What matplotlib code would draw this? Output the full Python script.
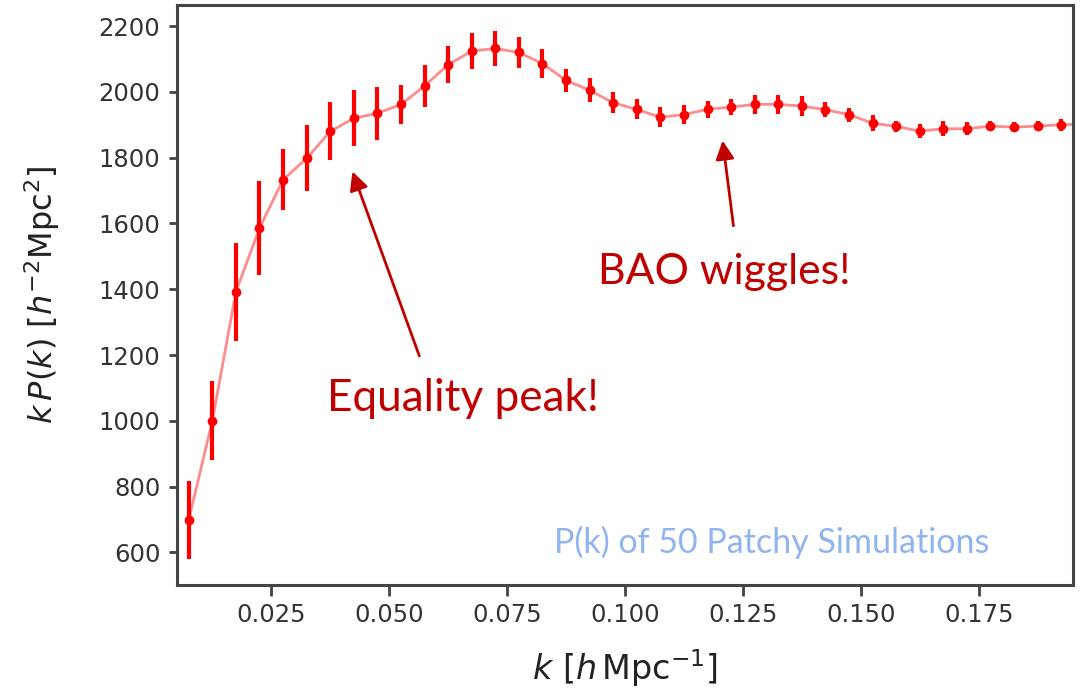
import matplotlib
matplotlib.use('Agg')
import matplotlib.pyplot as plt

# k bins [h/Mpc]
k = [0.0075, 0.0125, 0.0175, 0.0225, 0.0275, 0.0325, 0.0375, 0.0425, 0.0475, 0.0525,
     0.0575, 0.0625, 0.0675, 0.0725, 0.0775, 0.0825, 0.0875, 0.0925, 0.0975, 0.1025,
     0.1075, 0.1125, 0.1175, 0.1225, 0.1275, 0.1325, 0.1375, 0.1425, 0.1475, 0.1525,
     0.1575, 0.1625, 0.1675, 0.1725, 0.1775, 0.1825, 0.1875, 0.1925, 0.1975]
# k*P(k), mean of the mocks
kPk = [699, 1000, 1392, 1586, 1733, 1798, 1880, 1920, 1935, 1962,
       2018, 2083, 2124, 2132, 2120, 2086, 2035, 2005, 1967, 1947,
       1923, 1931, 1947, 1954, 1962, 1962, 1957, 1946, 1931, 1905,
       1895, 1881, 1888, 1888, 1896, 1893, 1896, 1900, 1902]
# scatter between the mocks
kPk_err = [118, 120, 150, 143, 92, 100, 88, 85, 80, 60,
           63, 57, 55, 52, 46, 44, 36, 37, 32, 30,
           31, 30, 25, 24, 30, 28, 31, 22, 21, 24,
           18, 21, 23, 20, 15, 15, 15, 18, 15]

dark_red = '#C00000'
txt_font = ['Lato', 'DejaVu Sans']

fig = plt.figure(figsize=(10.81, 6.88), dpi=100)
ax = fig.add_axes([0.1637, 0.1497, 0.8289, 0.843])

ax.plot(k, kPk, color='red', alpha=0.45, linewidth=2)
ax.errorbar(k, kPk, yerr=kPk_err, fmt='o', color='red', markersize=6,
            elinewidth=3, capsize=0)

ax.set_xlim(0.005, 0.195)
ax.set_xlabel(r'$k\ [h\,\mathrm{Mpc}^{-1}]$', fontsize=24, color='#222222')
ax.set_ylabel(r'$k\,P(k)\ [h^{-2}\mathrm{Mpc}^2]$', fontsize=23, color='#222222')
ax.xaxis.set_label_coords(0.5, -0.108)
ax.yaxis.set_label_coords(-0.128, 0.5)
ax.tick_params(labelsize=17.5, color='#444444', labelcolor='#333333', width=2)
ax.tick_params(axis='x', length=8, pad=5)
ax.tick_params(axis='y', length=6, pad=6)
for s in ax.spines.values():
    s.set_linewidth(2.2)
    s.set_color('#444444')

# arrows + notes
ax.annotate('', xy=(0.0422, 1758), xytext=(0.0564, 1197),
            arrowprops=dict(arrowstyle='-|>', color=dark_red, lw=2,
                            mutation_scale=28, shrinkA=0, shrinkB=0))
ax.annotate('', xy=(0.1207, 1852), xytext=(0.1230, 1593),
            arrowprops=dict(arrowstyle='-|>', color=dark_red, lw=2,
                            mutation_scale=28, shrinkA=0, shrinkB=0))
ax.text(0.0369, 1029, 'Equality peak!', color=dark_red, fontsize=31.8,
        family=txt_font, ha='left', va='baseline')
ax.text(0.0942, 1417, 'BAO wiggles!', color=dark_red, fontsize=30.8,
        family=txt_font, ha='left', va='baseline')
ax.text(0.0850, 599, 'P(k) of 50 Patchy Simulations', color='#8FB4F0',
        fontsize=24.5, family=txt_font, ha='left', va='baseline')

fig.savefig('out.png', dpi=100)
